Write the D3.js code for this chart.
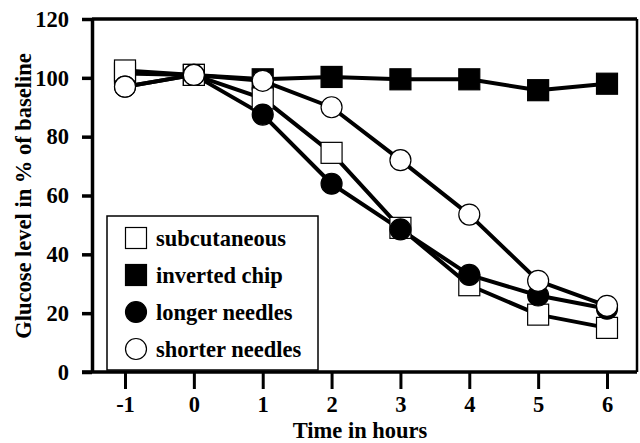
<!DOCTYPE html>
<html>
<head>
<meta charset="utf-8">
<script src="https://cdn.jsdelivr.net/npm/d3@7"></script>
<style>
  body { margin: 0; background: #fff; }
  text { font-family: 'Liberation Serif', 'Times New Roman', serif; font-weight: bold; }
</style>
</head>
<body>
<svg id="chart" width="640" height="443"></svg>
<script>
const hours = [-1, 0, 1, 2, 3, 4, 5, 6];
const subcutaneous = [102.5, 101, 93, 74.5, 49, 29.5, 19.5, 15];
const invertedChip = [101.5, 101, 99.5, 100.3, 99.5, 99.5, 95.8, 98];
const longerNeedles = [97, 101, 87.5, 64, 48.5, 33, 26, 21.5];
const shorterNeedles = [97, 101, 99, 90, 72, 53.5, 31, 22.5];
const yTicks = [0, 20, 40, 60, 80, 100, 120];
const seriesNames = ['subcutaneous', 'inverted chip', 'longer needles', 'shorter needles'];

const svg = d3.select('#chart');
const plotLeft = 92, plotRight = 637, plotTop = 19, plotBottom = 372;

const x = d3.scaleLinear().domain([-1, 6]).range([125, 607]);
const y = d3.scaleLinear().domain([0, 120]).range([plotBottom, plotTop]);

const series = [
  {name: seriesNames[0], values: subcutaneous, shape: 'square', fill: '#fff'},
  {name: seriesNames[1], values: invertedChip, shape: 'square', fill: '#000'},
  {name: seriesNames[2], values: longerNeedles, shape: 'circle', fill: '#000'},
  {name: seriesNames[3], values: shorterNeedles, shape: 'circle', fill: '#fff'}
];
// markers drawn in this order (inverted, subcutaneous, longer, shorter)
const drawOrder = [1, 0, 2, 3];

// frame (top + right)
svg.append('line')
  .attr('x1', plotLeft).attr('x2', plotRight).attr('y1', plotTop).attr('y2', plotTop)
  .attr('stroke', '#000').attr('stroke-width', 3.5);
svg.append('line')
  .attr('x1', plotRight).attr('x2', plotRight).attr('y1', plotTop).attr('y2', plotBottom)
  .attr('stroke', '#000').attr('stroke-width', 2.5);

// legend box
const legend = svg.append('g');
legend.append('rect')
  .attr('x', 107).attr('y', 216).attr('width', 211).attr('height', 154)
  .attr('fill', '#fff').attr('stroke', '#000').attr('stroke-width', 1.5);

// axes
const yAxis = svg.append('g')
  .attr('transform', 'translate(' + plotLeft + ',0)')
  .call(d3.axisLeft(y).tickValues(yTicks).tickSize(10).tickPadding(13).tickSizeOuter(0));
yAxis.select('.domain').attr('stroke-width', 3.5);
yAxis.selectAll('.tick line').attr('stroke-width', 3.5);
yAxis.selectAll('text').attr('font-size', 22.5).attr('fill', '#000')
  .style('font-family', "'Liberation Serif', serif").style('font-weight', 'bold');

const xAxis = svg.append('g')
  .attr('transform', 'translate(0,' + plotBottom + ')')
  .call(d3.axisBottom(x).tickValues(hours).tickFormat(function(d) { return String(d); })
    .tickSize(17).tickPadding(7).tickSizeOuter(0));
xAxis.select('.domain').attr('d', 'M' + (plotLeft - 10) + ',0H' + plotRight).attr('stroke-width', 3.5);
xAxis.selectAll('.tick line').attr('stroke-width', 3);
xAxis.selectAll('text').attr('font-size', 22.5).attr('fill', '#000')
  .style('font-family', "'Liberation Serif', serif").style('font-weight', 'bold');

svg.append('text')
  .attr('x', 360).attr('y', 438)
  .attr('text-anchor', 'middle')
  .attr('font-size', 22.5)
  .text('Time in hours');

svg.append('text')
  .attr('transform', 'translate(31,196)rotate(-90)')
  .attr('text-anchor', 'middle')
  .attr('font-size', 22.5)
  .text('Glucose level in % of baseline');

// lines
const line = d3.line()
  .x(function(d, i) { return x(hours[i]); })
  .y(function(d) { return y(d); });

series.forEach(function(s) {
  svg.append('path')
    .datum(s.values)
    .attr('fill', 'none')
    .attr('stroke', '#000')
    .attr('stroke-width', 4)
    .attr('stroke-linejoin', 'round')
    .attr('d', line);
});

function drawMarker(g, s, cx, cy) {
  if (s.shape === 'square') {
    g.append('rect')
      .attr('x', cx - 10.5).attr('y', cy - 10.5)
      .attr('width', 21).attr('height', 21)
      .attr('fill', s.fill).attr('stroke', '#000').attr('stroke-width', 1.2);
  } else {
    g.append('circle')
      .attr('cx', cx).attr('cy', cy).attr('r', 10.5)
      .attr('fill', s.fill).attr('stroke', '#000').attr('stroke-width', 1.2);
  }
}

// markers
drawOrder.forEach(function(k) {
  const s = series[k];
  const g = svg.append('g');
  s.values.forEach(function(v, i) {
    drawMarker(g, s, x(hours[i]), y(v));
  });
});

// legend entries
series.forEach(function(s, i) {
  const cy = 238 + i * 37;
  drawMarker(legend, s, 136, cy);
  legend.append('text')
    .attr('x', 156).attr('y', cy)
    .attr('dy', '0.35em')
    .attr('font-size', 22.5)
    .text(s.name);
});
</script>
</body>
</html>
